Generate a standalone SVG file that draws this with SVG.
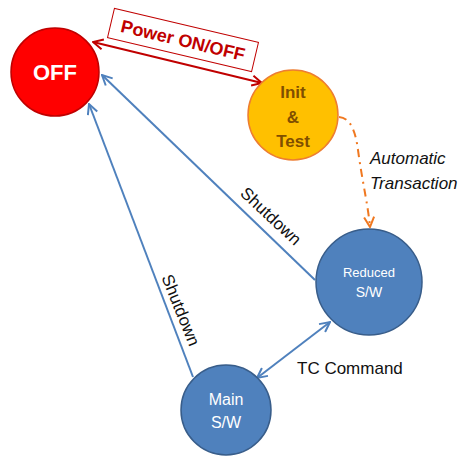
<svg xmlns="http://www.w3.org/2000/svg" width="470" height="456" viewBox="0 0 470 456">
<defs>
<style>
text{font-family:"Liberation Sans","DejaVu Sans",sans-serif}
.blue{fill:#4F81BD;stroke:#385D8A;stroke-width:1.5}
.bl{stroke:#4F81BD;stroke-width:2;fill:none}
.wt{fill:#fff;text-anchor:middle}
.lbl{fill:#111;font-size:17px}
</style>
<marker id="ab" viewBox="0 0 12 12" refX="11" refY="6" markerWidth="12" markerHeight="12" markerUnits="userSpaceOnUse" orient="auto-start-reverse"><path d="M1,1 L11,6 L1,11" fill="none" stroke="#4F81BD" stroke-width="2"/></marker>
<marker id="ar" viewBox="0 0 12 12" refX="11" refY="6" markerWidth="12" markerHeight="12" markerUnits="userSpaceOnUse" orient="auto-start-reverse"><path d="M1,1 L11,6 L1,11" fill="none" stroke="#C00000" stroke-width="2"/></marker>
<marker id="ao" viewBox="0 0 12 12" refX="11" refY="6" markerWidth="12" markerHeight="12" markerUnits="userSpaceOnUse" orient="auto"><path d="M1,1 L11,6 L1,11" fill="none" stroke="#F07820" stroke-width="2"/></marker>
</defs>
<g id="connectors">
<line x1="93" y1="42" x2="262" y2="83" stroke="#C00000" stroke-width="2" marker-start="url(#ar)" marker-end="url(#ar)"/>
<line class="bl" x1="315" y1="280" x2="102" y2="75" marker-end="url(#ab)"/>
<line class="bl" x1="193" y1="377" x2="89" y2="104" marker-end="url(#ab)"/>
<line class="bl" x1="330" y1="322" x2="257" y2="378" marker-start="url(#ab)" marker-end="url(#ab)"/>
<path d="M339,117 C352,118 356,135 358,150 C362,180 368,205 370,227" fill="none" stroke="#F07820" stroke-width="2" stroke-dasharray="8,5,2,5" marker-end="url(#ao)"/>
<g id="power-label" transform="translate(183,40) rotate(13.3)">
<rect x="-74" y="-15" width="148" height="30" fill="#fff" stroke="#C00000" stroke-width="1"/>
<text x="0" y="6.5" text-anchor="middle" fill="#C00000" font-size="18" font-weight="bold">Power ON/OFF</text>
</g>
<text class="lbl" x="370" y="164" font-style="italic" font-size="19">Automatic</text>
<text class="lbl" x="370" y="189" font-style="italic" font-size="19">Transaction</text>
<text class="lbl" transform="translate(271,216) rotate(43)" text-anchor="middle" y="6">Shutdown</text>
<text class="lbl" transform="translate(181,310) rotate(68)" text-anchor="middle" y="6">Shutdown</text>
<text class="lbl" x="297" y="374" font-size="18">TC Command</text>
</g>
<g id="off">
<circle cx="55" cy="72" r="44" fill="#FF0000" stroke="#C00000" stroke-width="1.5"/>
<text class="wt" x="55" y="80" font-size="22" font-weight="bold">OFF</text>
</g>
<g id="init">
<circle cx="293" cy="115" r="45" fill="#FFC000" stroke="#ED7D31" stroke-width="1.5"/>
<text x="293" y="98" text-anchor="middle" fill="#7F4F00" font-size="17" font-weight="bold">Init</text>
<text x="293" y="123" text-anchor="middle" fill="#7F4F00" font-size="17" font-weight="bold">&amp;</text>
<text x="293" y="147" text-anchor="middle" fill="#7F4F00" font-size="17" font-weight="bold">Test</text>
</g>
<g id="reduced">
<circle class="blue" cx="369" cy="282" r="53"/>
<text class="wt" x="369" y="277" font-size="13">Reduced</text>
<text class="wt" x="369" y="297" font-size="14">S/W</text>
</g>
<g id="main">
<circle class="blue" cx="226" cy="410" r="45"/>
<text class="wt" x="226" y="405" font-size="16">Main</text>
<text class="wt" x="226" y="428" font-size="16">S/W</text>
</g>
</svg>
